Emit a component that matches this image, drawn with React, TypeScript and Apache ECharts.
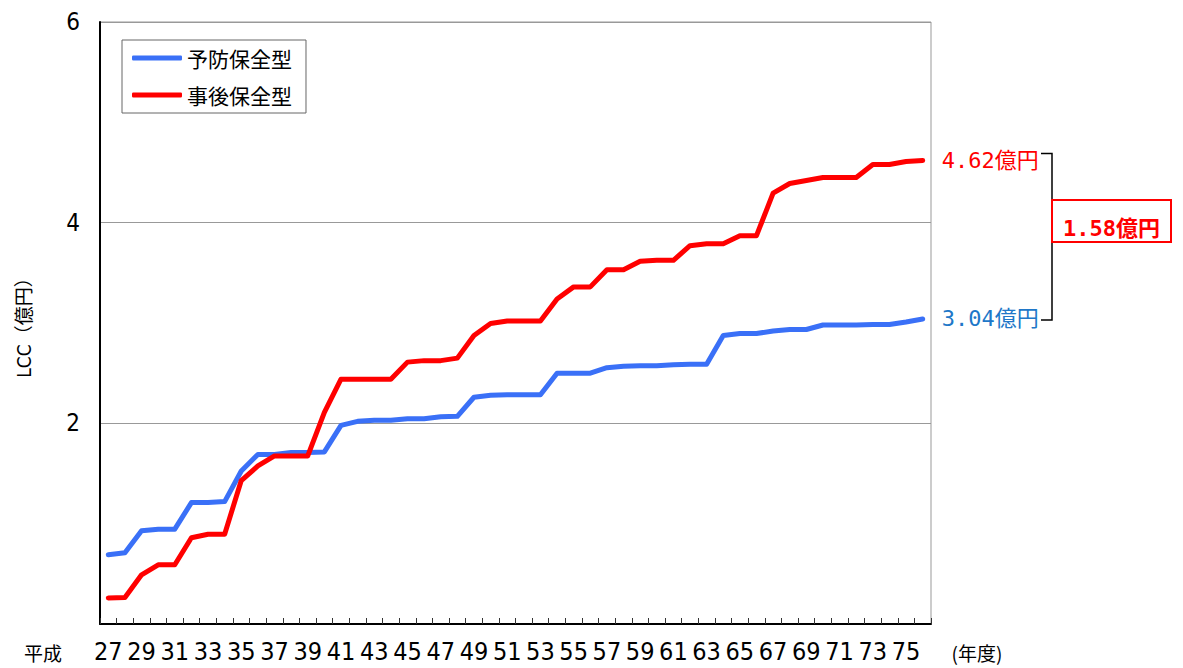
import React, { useEffect, useRef } from "react";
import * as echarts from "echarts";

const years = [
  "27", "28", "29", "30", "31", "32", "33", "34", "35", "36",
  "37", "38", "39", "40", "41", "42", "43", "44", "45", "46",
  "47", "48", "49", "50", "51", "52", "53", "54", "55", "56",
  "57", "58", "59", "60", "61", "62", "63", "64", "65", "66",
  "67", "68", "69", "70", "71", "72", "73", "74", "75", "76",
];

const preventive = [
  0.69, 0.71, 0.93, 0.945, 0.945, 1.21, 1.21, 1.22, 1.525, 1.69,
  1.69, 1.71, 1.71, 1.715, 1.98, 2.02, 2.03, 2.03, 2.045, 2.045,
  2.065, 2.07, 2.26, 2.28, 2.285, 2.285, 2.285, 2.5, 2.5, 2.5,
  2.555, 2.57, 2.575, 2.575, 2.585, 2.59, 2.59, 2.875, 2.895, 2.895,
  2.92, 2.935, 2.935, 2.98, 2.98, 2.98, 2.985, 2.985, 3.01, 3.04,
];

const corrective = [
  0.26, 0.265, 0.49, 0.59, 0.59, 0.86, 0.895, 0.895, 1.43, 1.575,
  1.675, 1.675, 1.675, 2.11, 2.44, 2.44, 2.44, 2.44, 2.61, 2.625,
  2.625, 2.65, 2.875, 2.995, 3.02, 3.02, 3.02, 3.24, 3.36, 3.36,
  3.53, 3.53, 3.615, 3.625, 3.625, 3.77, 3.79, 3.79, 3.87, 3.87,
  4.295, 4.39, 4.42, 4.45, 4.45, 4.45, 4.58, 4.58, 4.61, 4.62,
];

const seriesNames = ["予防保全型", "事後保全型"];
const yTicks = [0, 2, 4, 6];

const BLUE = "#3A70F7";
const RED = "#FF0000";
const BLUE_TEXT = "#2077C8";
const NARROW = "'Liberation Sans Narrow', 'DejaVu Sans Condensed', 'Noto Sans CJK JP', sans-serif";
const CJK = "'Noto Sans CJK JP', sans-serif";
const MONO = "'DejaVu Sans Mono', 'Noto Sans CJK JP', monospace";

export default function App() {
  const ref = useRef<HTMLDivElement>(null);

  useEffect(() => {
    document.body.style.margin = "0";
    const chart = echarts.init(ref.current!, null, { renderer: "svg" });
    const lastBlue = preventive[preventive.length - 1];
    const lastRed = corrective[corrective.length - 1];

    chart.setOption({
      animation: false,
      backgroundColor: "#fff",
      grid: {
        left: 100,
        right: 252,
        top: 22,
        bottom: 44,
        show: true,
        borderColor: "#999",
        borderWidth: 1,
      },
      legend: {
        orient: "vertical",
        left: 122,
        top: 40,
        padding: [7, 14, 7, 10],
        itemGap: 15,
        itemWidth: 50,
        itemHeight: 5,
        icon: "roundRect",
        borderColor: "#666",
        borderWidth: 1,
        backgroundColor: "#fff",
        textStyle: { fontSize: 21, fontFamily: CJK, color: "#000", lineHeight: 22 },
        data: seriesNames,
      },
      xAxis: {
        type: "category",
        data: years,
        boundaryGap: true,
        axisLine: { lineStyle: { color: "#000", width: 2 } },
        axisTick: { show: true, inside: true, length: 6, interval: 0, lineStyle: { color: "#333" } },
        axisLabel: {
          interval: 1,
          fontSize: 25,
          fontFamily: NARROW,
          color: "#000",
          margin: 15,
        },
        splitLine: { show: false },
      },
      yAxis: {
        type: "value",
        min: yTicks[0],
        max: yTicks[yTicks.length - 1],
        interval: 2,
        name: "LCC（億円）",
        nameLocation: "middle",
        nameRotate: 90,
        nameGap: 67,
        nameTextStyle: { fontSize: 19, fontFamily: NARROW, color: "#000" },
        axisLine: { show: true, lineStyle: { color: "#000", width: 2 } },
        axisTick: { show: false },
        axisLabel: {
          fontSize: 24,
          fontFamily: NARROW,
          color: "#000",
          margin: 20,
          formatter: (v: number) => (v === 0 ? "" : String(v)),
        },
        splitLine: { show: true, lineStyle: { color: "#999", width: 1 } },
      },
      series: [
        {
          name: seriesNames[0],
          type: "line",
          data: preventive,
          symbol: "none",
          color: BLUE,
          lineStyle: { width: 5, color: BLUE, cap: "round", join: "round" },
          endLabel: {
            show: true,
            distance: 19,
            formatter: (p: any) => Number(p.value).toFixed(2) + "億円",
            color: BLUE_TEXT,
            fontSize: 22,
            fontFamily: MONO,
          },
          z: 3,
        },
        {
          name: seriesNames[1],
          type: "line",
          data: corrective,
          symbol: "none",
          color: RED,
          lineStyle: { width: 5, color: RED, cap: "round", join: "round" },
          endLabel: {
            show: true,
            distance: 19,
            formatter: (p: any) => Number(p.value).toFixed(2) + "億円",
            color: RED,
            fontSize: 22,
            fontFamily: MONO,
          },
          z: 4,
        },
      ],
    });

    const yTop = (chart.convertToPixel({ yAxisIndex: 0 }, lastRed) as number) - 7;
    const yBot = (chart.convertToPixel({ yAxisIndex: 0 }, lastBlue) as number) + 1;
    const bx = 1052;
    const boxTop = 200;
    const boxBottom = 242;

    chart.setOption({
      graphic: [
        {
          type: "polyline",
          shape: { points: [[1041, yTop], [bx, yTop], [bx, yBot], [1041, yBot]] },
          style: { stroke: "#000", lineWidth: 1.5, fill: null },
        },
        {
          type: "rect",
          shape: { x: bx, y: boxTop, width: 119, height: boxBottom - boxTop },
          style: { stroke: RED, lineWidth: 2, fill: "#fff" },
        },
        {
          type: "text",
          x: bx + 59.5,
          y: 228,
          style: {
            text: (lastRed - lastBlue).toFixed(2) + "億円",
            fill: RED,
            fontSize: 22,
            fontWeight: "bold",
            fontFamily: MONO,
            align: "center",
            verticalAlign: "middle",
          },
        },
        {
          type: "text",
          x: 43,
          y: 652,
          style: {
            text: "平成",
            fill: "#000",
            fontSize: 19,
            fontFamily: CJK,
            align: "center",
            verticalAlign: "middle",
          },
        },
        {
          type: "text",
          x: 977,
          y: 652,
          style: {
            text: "(年度)",
            fill: "#000",
            fontSize: 19,
            fontFamily: CJK,
            align: "center",
            verticalAlign: "middle",
          },
        },
      ],
    });

    return () => chart.dispose();
  }, []);

  return (
    <div
      ref={ref}
      style={{ position: "absolute", left: 0, top: 0, width: 1183, height: 668 }}
    />
  );
}
